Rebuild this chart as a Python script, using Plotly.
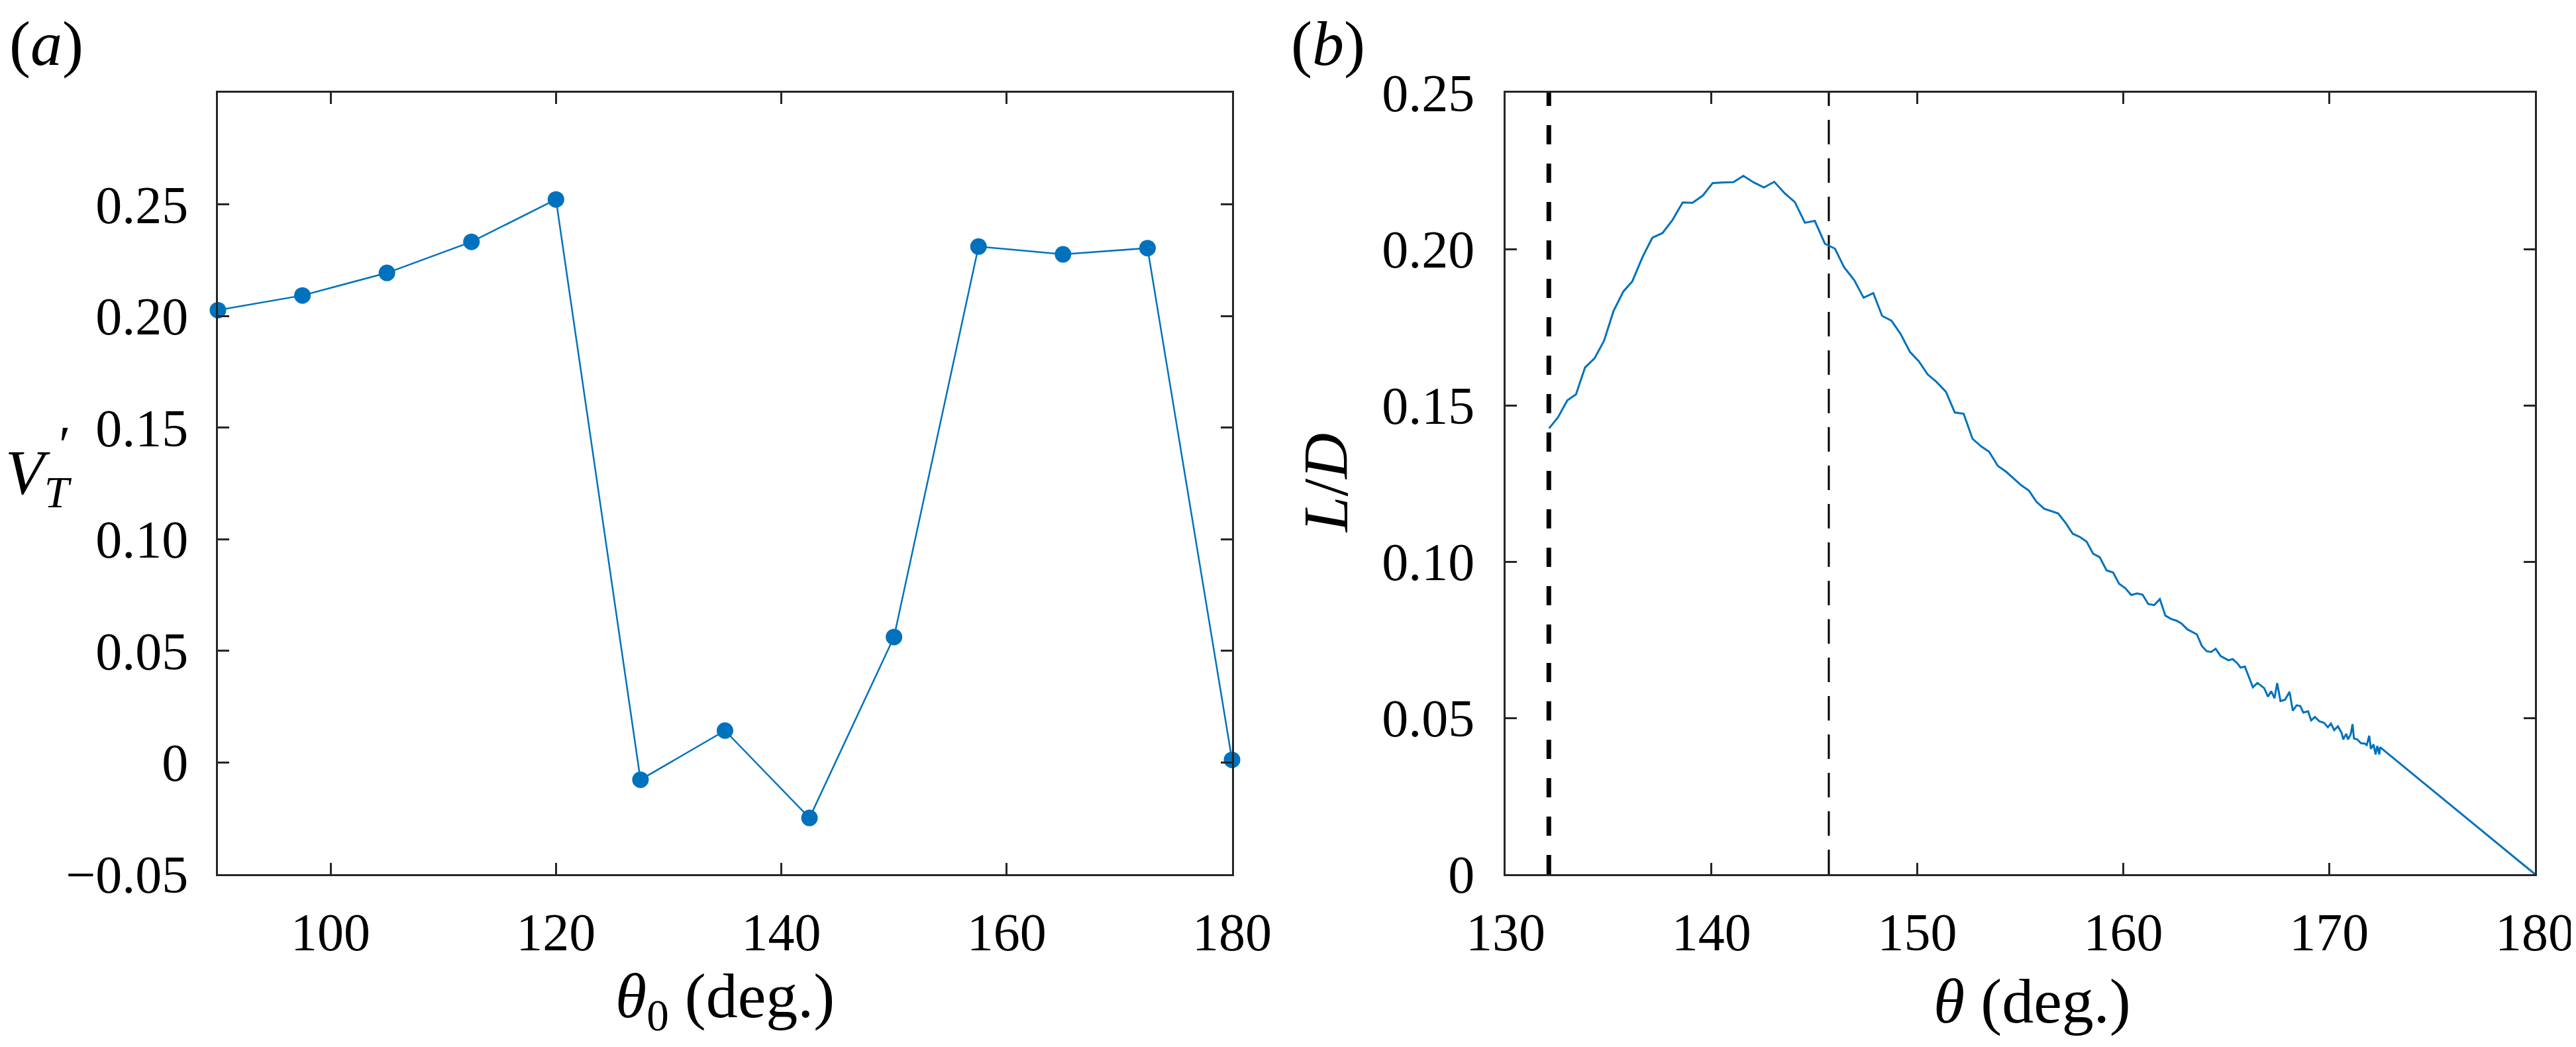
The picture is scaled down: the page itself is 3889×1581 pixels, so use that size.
import plotly.graph_objects as go

# panel (a): tangential velocity vs initial angle
theta0 = [90, 97.5, 105, 112.5, 120, 127.5, 135, 142.5, 150, 157.5, 165, 172.5, 180]
v_t = [0.2026, 0.2092, 0.2193, 0.2332, 0.2522, -0.0077, 0.0143, -0.0248,
       0.0562, 0.2311, 0.2276, 0.2304, 0.0012]

# panel (b): L/D vs theta
theta = [132.11, 132.54, 133.0, 133.42, 133.86, 134.32, 134.78, 135.24, 135.72, 136.15,
         136.67, 137.13, 137.62, 138.11, 138.60, 139.08, 139.58, 140.06, 140.58, 141.07,
         141.55, 142.05, 142.55, 143.05, 143.56, 144.05, 144.54, 145.02, 145.51, 146.0,
         146.44, 146.94, 147.39, 147.86, 148.29, 148.74, 149.19, 149.64, 150.07, 150.50,
         150.93, 151.39, 151.82, 152.25, 152.68, 153.09, 153.49, 153.91, 154.32, 154.69,
         155.05, 155.42, 155.79, 156.16, 156.49, 156.84, 157.21, 157.55, 157.89, 158.22,
         158.54, 158.86, 159.19, 159.51, 159.80, 160.10, 160.39, 160.68, 160.94, 161.22,
         161.51, 161.78, 162.05, 162.34, 162.59, 162.83, 163.12, 163.58, 163.82, 164.06,
         164.27, 164.49, 164.73, 165.11, 165.32, 165.54, 165.70, 165.91, 166.30, 166.52,
         166.85, 167.03, 167.19, 167.35, 167.48, 167.64, 167.86, 168.08, 168.24, 168.42,
         168.60, 168.75, 168.98, 169.13, 169.31, 169.53, 169.76, 169.94, 170.09, 170.25,
         170.43, 170.61, 170.69, 170.83, 170.92, 171.05, 171.14, 171.21, 171.37, 171.55,
         171.73, 171.83, 171.95, 172.03, 172.16, 172.26, 172.34, 172.44, 172.48, 180.0]
l_over_d = [0.1426, 0.1461, 0.1516, 0.1535, 0.1621, 0.1650, 0.1706, 0.1801, 0.1864, 0.1896,
            0.1977, 0.2036, 0.2051, 0.2093, 0.2149, 0.2148, 0.2171, 0.2211, 0.2213, 0.2214,
            0.2234, 0.2213, 0.2197, 0.2215, 0.2178, 0.2150, 0.2084, 0.2090, 0.2017, 0.2001,
            0.1942, 0.1900, 0.1844, 0.1859, 0.1786, 0.1771, 0.1728, 0.1671, 0.1641, 0.1599,
            0.1575, 0.1543, 0.1477, 0.1473, 0.1393, 0.1369, 0.1351, 0.1306, 0.1287, 0.1265,
            0.1244, 0.1227, 0.1191, 0.1169, 0.1162, 0.1154, 0.1123, 0.1089, 0.1079, 0.1064,
            0.1025, 0.1014, 0.0972, 0.0965, 0.0929, 0.0915, 0.0893, 0.0898, 0.0894, 0.0864,
            0.0861, 0.0880, 0.0827, 0.0816, 0.0811, 0.0802, 0.0783, 0.0767, 0.0730, 0.0713,
            0.0711, 0.0721, 0.0698, 0.0684, 0.0688, 0.0675, 0.0661, 0.0664, 0.0598, 0.0612,
            0.0595, 0.0568, 0.0585, 0.0563, 0.0611, 0.0554, 0.0558, 0.0583, 0.0523, 0.0540,
            0.0538, 0.0517, 0.0521, 0.0492, 0.0503, 0.0489, 0.0484, 0.0470, 0.0482, 0.0461,
            0.0473, 0.0452, 0.0431, 0.0449, 0.0431, 0.0447, 0.0480, 0.0434, 0.0431, 0.0419,
            0.0418, 0.0413, 0.0443, 0.0401, 0.0415, 0.0383, 0.0410, 0.0383, 0.0406, 0.0]

# vertical reference angles in panel (b)
thick_line_angle = 132.1
thin_line_angle = 145.7

# ticks
a_xticks = [100, 120, 140, 160, 180]
a_yticks = [-0.05, 0, 0.05, 0.10, 0.15, 0.20, 0.25]
a_yticklabels = ["\u22120.05", "0", "0.05", "0.10", "0.15", "0.20", "0.25"]
b_xticks = [130, 140, 150, 160, 170, 180]
b_yticks = [0, 0.05, 0.10, 0.15, 0.20, 0.25]
b_yticklabels = ["0", "0.05", "0.10", "0.15", "0.20", "0.25"]

W, H = 3889, 1581
FONT = "Liberation Serif"
BLUE = "#0072BD"
AXC = "#262626"


def px(x):
    return x / W


def py(y):
    return 1 - y / H


fig = go.Figure()

fig.add_trace(go.Scatter(
    x=theta0, y=v_t, mode="lines+markers", xaxis="x", yaxis="y",
    line=dict(color=BLUE, width=2.5), marker=dict(color=BLUE, size=25),
    cliponaxis=False, showlegend=False))

for ang, w, dash in [(thick_line_angle, 7, "29px,29px"), (thin_line_angle, 3, "37px,21px")]:
    fig.add_trace(go.Scatter(
        x=[ang, ang], y=[b_yticks[0], b_yticks[-1]], mode="lines", xaxis="x2", yaxis="y2",
        line=dict(color="black", width=w, dash=dash), showlegend=False))

fig.add_trace(go.Scatter(
    x=theta, y=l_over_d, mode="lines", xaxis="x2", yaxis="y2",
    line=dict(color=BLUE, width=3), showlegend=False))

axis_style = dict(
    showline=True, linecolor=AXC, linewidth=2.5, mirror="allticks",
    ticks="inside", ticklen=17, tickwidth=2.5, tickcolor=AXC,
    showgrid=False, zeroline=False, automargin=False,
    tickfont=dict(family=FONT, size=80, color="black"),
)

fig.update_layout(
    width=W, height=H,
    margin=dict(l=0, r=0, t=0, b=0, autoexpand=False),
    paper_bgcolor="white", plot_bgcolor="white",
    xaxis=dict(domain=[px(321), px(1852)], range=[90, 180], tickvals=a_xticks,
               ticklabelstandoff=16, anchor="y", **axis_style),
    yaxis=dict(domain=[py(1312), py(132)], range=[-0.05, 0.30], tickvals=a_yticks,
               ticktext=a_yticklabels, ticklabelstandoff=26, anchor="x", **axis_style),
    xaxis2=dict(domain=[px(2265), px(3819)], range=[130, 180], tickvals=b_xticks,
                ticklabelstandoff=16, anchor="y2", **axis_style),
    yaxis2=dict(domain=[py(1312), py(132)], range=[0, 0.25], tickvals=b_yticks,
                ticktext=b_yticklabels, ticklabelstandoff=28, anchor="x2", **axis_style),
)

lab = dict(family=FONT, size=96, color="black")
annotations = [
    dict(x=px(62), y=py(58), text="(<i>a</i>)"),
    dict(x=px(1997), y=py(58), text="(<i>b</i>)"),
    dict(x=px(1086), y=py(1502), text="<i>\u03b8</i><sub>0</sub> (deg.)"),
    dict(x=px(3060), y=py(1503), text="<i>\u03b8</i> (deg.)"),
    dict(x=px(50), y=py(712), text="<i>V</i><sub><i>T</i></sub>"),
    dict(x=px(90), y=py(664), text="\u2032", font=dict(family=FONT, size=80, color="black")),
    dict(x=px(1993), y=py(721), text="<i>L</i>/<i>D</i>", textangle=-90),
]
for a in annotations:
    a.setdefault("font", lab)
    fig.add_annotation(xref="paper", yref="paper", showarrow=False,
                       xanchor="center", yanchor="middle", **a)

fig.write_html("out.html")
